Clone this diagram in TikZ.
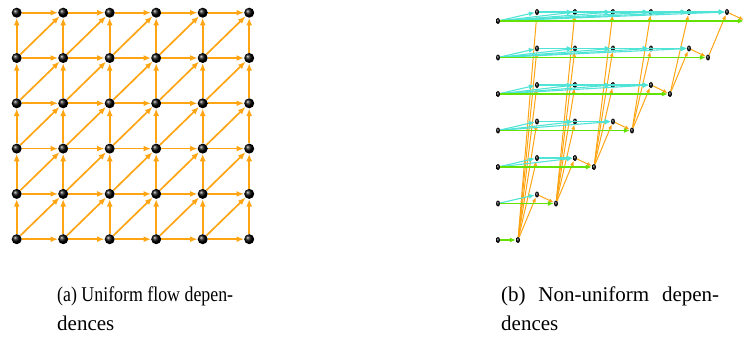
\documentclass[tikz,border=0pt]{standalone}
\usepackage{fontspec}
\setmainfont{Liberation Serif}
\usetikzlibrary{arrows.meta,shapes.geometric}
\definecolor{deporange}{RGB}{255,165,20}
\definecolor{depcyan}{RGB}{80,228,215}
\definecolor{depgreen}{RGB}{100,225,0}
\tikzset{
  bigpt/.style={circle,inner sep=0pt,minimum size=10pt,ball color=black},
  smallpt/.style={ellipse,inner sep=0pt,minimum width=4pt,minimum height=6pt,ball color=black},
  flowdep/.style={draw=deporange,line width=1.7pt,-{Latex[length=7.5pt,width=6pt]}},
  odep/.style={draw=deporange,line width=1pt,-{Latex[length=5pt,width=4pt]}},
  cdep/.style={draw=depcyan,line width=1.1pt,-{Latex[length=6pt,width=5pt]}},
  gdep/.style={draw=depgreen,line width=1.6pt,-{Latex[length=6pt,width=5pt]}},
  caption/.style={anchor=base west,inner sep=0pt,font=\fontsize{21}{29.5}\selectfont}
}
\begin{document}
\begin{tikzpicture}[x=1pt,y=-1pt]
\useasboundingbox (0,0) rectangle (743,337);
\clip (0,0) rectangle (743,337);

% ---- uniform lattice: 6 x 6 points, row 0 on top
\foreach \i in {0,...,5}{
  \foreach \j in {0,...,5}{
    \node[bigpt] (g-\i-\j) at ({16.7+46.5*\i},{12.7+45.3*\j}) {};
  }
}
\foreach \i in {0,...,5}{
  \foreach \j in {0,...,5}{
    \pgfmathtruncatemacro\ni{\i+1}
    \pgfmathtruncatemacro\nj{\j+1}
    \ifnum\i<5 \draw[flowdep] (g-\i-\j) -- (g-\ni-\j); \fi
    \ifnum\j<5 \draw[flowdep] (g-\i-\nj) -- (g-\i-\j); \fi
    \ifnum\i<5 \ifnum\j<5 \draw[flowdep] (g-\i-\nj) -- (g-\ni-\j); \fi\fi
  }
}

% ---- non-uniform dependences: triangular space, row 0 on top
\foreach \r in {0,...,6}{
  \pgfmathsetmacro\yr{21+36.5*\r}
  \pgfmathsetmacro\ym{\yr-9}
  \pgfmathtruncatemacro\k{6-\r}
  \node[smallpt] (l-\r) at (498,\yr) {};
  \node[smallpt] (e-\r) at ({518+38*\k},\yr) {};
  \ifnum\k>0
    \foreach \j in {1,...,\k}{
      \node[smallpt] (m-\r-\j) at ({499+38*\j},\ym) {};
    }
  \fi
}
% orange: last inner point to row end, row end up to the next column above
\foreach \r in {1,...,6}{
  \pgfmathtruncatemacro\k{6-\r}
  \pgfmathtruncatemacro\kk{\k+1}
  \pgfmathtruncatemacro\rup{\r-1}
  \foreach \s in {0,...,\rup}{
    \draw[odep] (e-\r) -- (m-\s-\kk);
  }
}
\foreach \r in {0,...,5}{
  \pgfmathtruncatemacro\k{6-\r}
  \draw[odep] (m-\r-\k) -- (e-\r);
}
% cyan: every point to every later inner point of its row
\foreach \r in {0,...,5}{
  \pgfmathtruncatemacro\k{6-\r}
  \foreach \b in {1,...,\k}{
    \draw[cdep] (l-\r) -- (m-\r-\b);
    \ifnum\b>1
      \pgfmathtruncatemacro\bb{\b-1}
      \foreach \a in {1,...,\bb}{
        \draw[cdep] (m-\r-\a) -- (m-\r-\b);
      }
    \fi
  }
}
% green: row start to row end
\foreach \r in {0,...,6}{
  \draw[gdep] (l-\r) -- (e-\r);
}

% ---- captions
\node[caption] (cap-a1) at (57,301) {\scalebox{0.85}[1]{(a) Uniform flow depen-}};
\node[caption] (cap-a2) at (57,330) {dences};
\node[caption] (cap-b1) at (501,301) {\makebox[218pt][s]{(b) Non-uniform depen-}};
\node[caption] (cap-b2) at (501,330) {dences};
\end{tikzpicture}
\end{document}
